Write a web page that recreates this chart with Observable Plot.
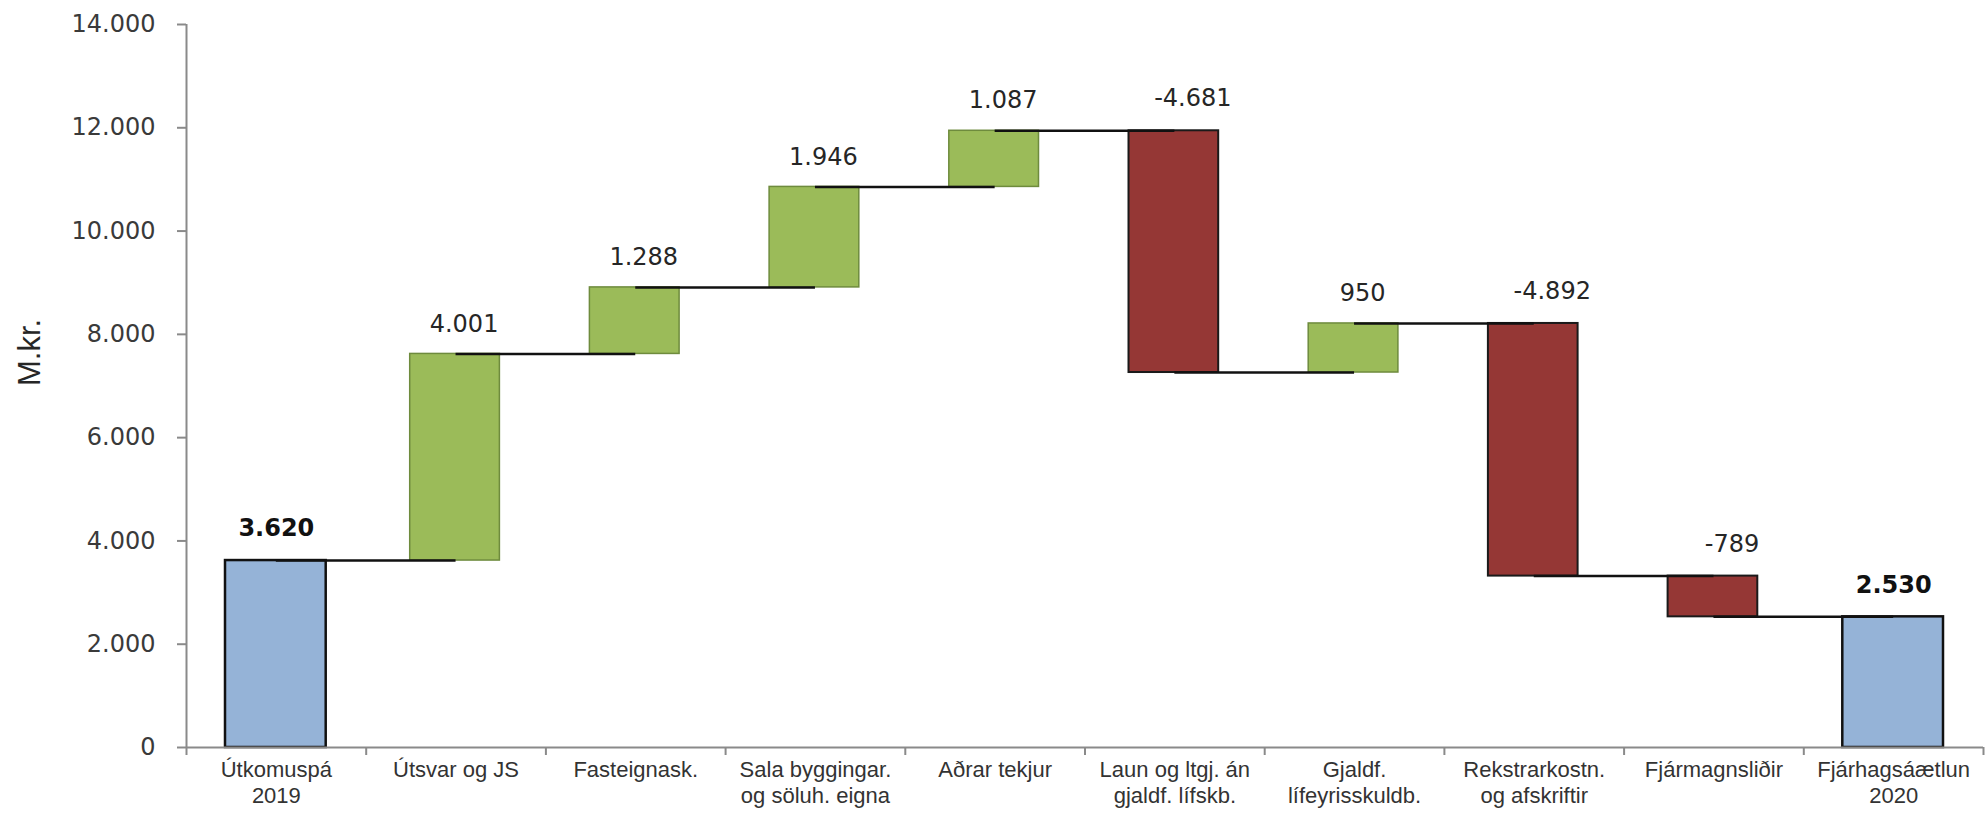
<!DOCTYPE html>
<html>
<head>
<meta charset="utf-8">
<script src="https://cdn.jsdelivr.net/npm/d3@7"></script>
<script src="https://cdn.jsdelivr.net/npm/@observablehq/plot@0.6"></script>
<style>
  html, body { margin: 0; padding: 0; background: #fff; }
  #chart svg { display: block; }
</style>
</head>
<body>
<div id="chart"></div>
<script>
// ---- data ----
const categories = [
  "Útkomuspá\n2019",
  "Útsvar og JS",
  "Fasteignask.",
  "Sala byggingar.\nog söluh. eigna",
  "Aðrar tekjur",
  "Laun og ltgj. án\ngjaldf. lífskb.",
  "Gjaldf.\nlífeyrisskuldb.",
  "Rekstrarkostn.\nog afskriftir",
  "Fjármagnsliðir",
  "Fjárhagsáætlun\n2020"
];
const values = [3620, 4001, 1288, 1946, 1087, -4681, 950, -4892, -789, 2530];
const kinds = ["total", "delta", "delta", "delta", "delta", "delta", "delta", "delta", "delta", "total"];
const yTicks = [0, 2000, 4000, 6000, 8000, 10000, 12000, 14000];
const yLabel = "M.kr.";

// ---- derived table ----
const isl = d3.formatLocale({decimal: ",", thousands: ".", grouping: [3], currency: ["", ""], minus: "-"});
const fmt = isl.format(",");

let cum = 0;
const rows = categories.map((c, i) => {
  const v = values[i];
  let lo, hi, end;
  if (kinds[i] === "total") { lo = 0; hi = v; end = v; }
  else { const s = cum; end = cum + v; lo = Math.min(s, end); hi = Math.max(s, end); }
  cum = end;
  return {i, cat: c, v, kind: kinds[i], lo, hi, end, sign: kinds[i] === "total" ? "total" : (v >= 0 ? "up" : "down"), label: fmt(v)};
});
const connectors = rows.slice(0, -1).map(r => ({x1: r.i + 0.5, x2: r.i + 1.5, y: r.end}));

const colors = {total: "#95B3D7", up: "#9BBB59", down: "#953735"};
const strokes = {total: "#111", up: "#6E8B3D", down: "#1a1a1a"};

const chart = Plot.plot({
  width: 1987,
  height: 822,
  marginLeft: 186,
  marginRight: 4,
  marginTop: 24,
  marginBottom: 75,
  style: {fontFamily: "DejaVu Sans, sans-serif", fontSize: "24px", background: "#fff"},
  x: {domain: [0, categories.length], axis: null},
  y: {domain: [0, 14000], axis: null},
  marks: [
    // bars
    Plot.rect(rows.filter(r => r.kind === "total"), {
      x1: "i", x2: d => d.i + 1, y1: "lo", y2: "hi",
      insetLeft: 39, insetRight: 40,
      fill: colors.total, stroke: strokes.total, strokeWidth: 2.5
    }),
    Plot.rect(rows.filter(r => r.sign === "up"), {
      x1: "i", x2: d => d.i + 1, y1: "lo", y2: "hi",
      insetLeft: 44, insetRight: 46,
      fill: colors.up, stroke: strokes.up, strokeWidth: 1.5
    }),
    Plot.rect(rows.filter(r => r.sign === "down"), {
      x1: "i", x2: d => d.i + 1, y1: "lo", y2: "hi",
      insetLeft: 44, insetRight: 46,
      fill: colors.down, stroke: strokes.down, strokeWidth: 2
    }),
    // connector lines
    Plot.ruleY(connectors, {y: "y", x1: "x1", x2: "x2", stroke: "#111", strokeWidth: 2.5}),
    // axis lines
    Plot.ruleY([0], {stroke: "#8a8a8a", strokeWidth: 2}),
    Plot.ruleX([0], {stroke: "#8a8a8a", strokeWidth: 2}),
    // y axis
    Plot.axisY({
      ticks: yTicks, tickSize: 9, tickPadding: 22,
      tickFormat: d => d === 0 ? "0" : fmt(d),
      stroke: "#8a8a8a", strokeWidth: 2, fill: "#3a3a3a",
      fontSize: 24, fontFamily: "DejaVu Sans, sans-serif", label: null
    }),
    // x tick marks at category boundaries
    Plot.axisX({
      ticks: d3.range(0, categories.length + 1), tickSize: 8,
      tickFormat: () => "", stroke: "#8a8a8a", strokeWidth: 2, label: null
    }),
    // x category labels
    Plot.axisX({
      ticks: categories.map((c, i) => i + 0.5), tickSize: 0, tickPadding: 10,
      tickFormat: d => categories[Math.round(d - 0.5)],
      fill: "#333", fontSize: 22, lineHeight: 1.22,
      fontFamily: "Liberation Sans, Arial, sans-serif", label: null
    }),
    // value labels
    Plot.text(rows.filter(r => r.kind === "total"), {
      x: d => d.i + 0.5, y: "hi", text: "label", dy: -32, lineAnchor: "middle",
      fontWeight: "bold", fontSize: 24, fill: "#111", fontFamily: "DejaVu Sans, sans-serif"
    }),
    Plot.text(rows.filter(r => r.sign === "up"), {
      x: d => d.i + 0.5, y: "hi", text: "label", dy: -30, dx: 8, lineAnchor: "middle",
      fontSize: 24, fill: "#262626", fontFamily: "DejaVu Sans, sans-serif"
    }),
    Plot.text(rows.filter(r => r.sign === "down"), {
      x: d => d.i + 0.5, y: "hi", text: "label", dy: -32, dx: 18, lineAnchor: "middle",
      fontSize: 24, fill: "#262626", fontFamily: "DejaVu Sans, sans-serif"
    }),
    // y axis title
    Plot.text([yLabel], {
      frameAnchor: "left", dx: -156, rotate: -90, text: d => d,
      fontSize: 31, fill: "#262626", fontFamily: "Liberation Sans, Arial, sans-serif"
    })
  ]
});
document.getElementById("chart").appendChild(chart);
</script>
</body>
</html>
